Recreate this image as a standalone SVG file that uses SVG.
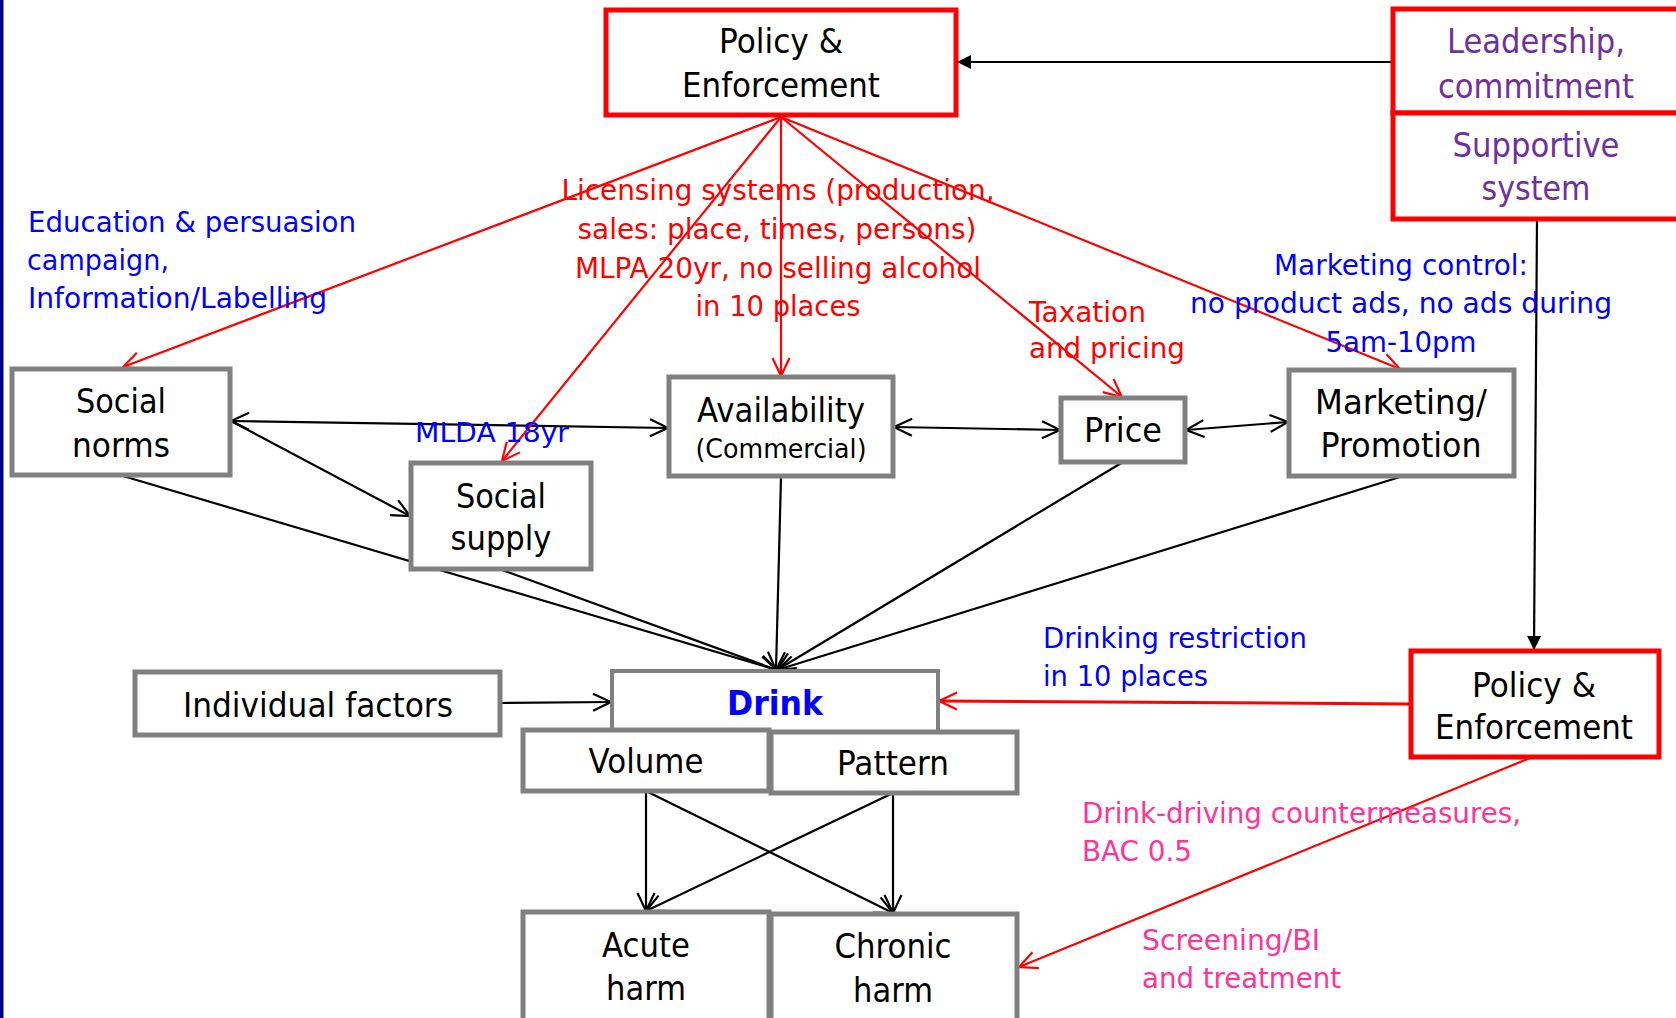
<svg xmlns="http://www.w3.org/2000/svg" width="1676" height="1018" viewBox="0 0 1676 1018">
<style>
text{font-family:"DejaVu Sans","Liberation Sans",sans-serif;}
.m{font-size:33px;fill:#000;text-anchor:middle}
.a{font-size:29px}
.blue{fill:#0000FF}
.red{fill:#FF0000}
.pink{fill:#FF3399}
.purple{fill:#7030A0}
.gb{fill:#fff;stroke:#808080;stroke-width:5}
.rb{fill:#fff;stroke:#FF0000;stroke-width:5}
.k{stroke:#000;stroke-width:2.2;fill:none}
.r{stroke:#FF0000;stroke-width:2.2;fill:none}
</style>
<defs>
<marker id="ak" viewBox="0 0 22 22" refX="20" refY="11" markerWidth="22" markerHeight="22" markerUnits="userSpaceOnUse" orient="auto-start-reverse"><path d="M2,2.5 L20,11 L2,19.5" fill="none" stroke="#000" stroke-width="2.2"/></marker>
<marker id="ar" viewBox="0 0 22 22" refX="20" refY="11" markerWidth="22" markerHeight="22" markerUnits="userSpaceOnUse" orient="auto-start-reverse"><path d="M2,2.5 L20,11 L2,19.5" fill="none" stroke="#FF0000" stroke-width="2.2"/></marker>
<marker id="af" viewBox="0 0 16 16" refX="15" refY="8" markerWidth="16" markerHeight="16" markerUnits="userSpaceOnUse" orient="auto"><path d="M1,1 L15,8 L1,15 Z" fill="#000"/></marker>
</defs>
<rect x="0" y="0" width="1676" height="1018" fill="#fff"/>
<rect x="0" y="0" width="3.5" height="1018" fill="#00008B"/>

<g id="connectors">
<path class="k" d="M231,421 L668,428" marker-start="url(#ak)" marker-end="url(#ak)"/>
<path class="k" d="M231,421 L410,516" marker-end="url(#ak)"/>
<path class="k" d="M123,476 L777,670" marker-end="url(#ak)"/>
<path class="k" d="M502,570 L777,670" marker-end="url(#ak)"/>
<path class="k" d="M781,477 L776,670" marker-end="url(#ak)"/>
<path class="k" d="M1123,462 L777,670" marker-end="url(#ak)"/>
<path class="k" d="M1400,477 L777,670" marker-end="url(#ak)"/>
<path class="k" d="M894,427 L1060,430" marker-start="url(#ak)" marker-end="url(#ak)"/>
<path class="k" d="M1186,430 L1288,422" marker-start="url(#ak)" marker-end="url(#ak)"/>
<path class="k" d="M501,703 L611,702" marker-end="url(#ak)"/>
<path class="k" d="M646,791 L646,911" marker-end="url(#ak)"/>
<path class="k" d="M646,791 L893,913" marker-end="url(#ak)"/>
<path class="k" d="M893,793 L893,913" marker-end="url(#ak)"/>
<path class="k" d="M893,793 L646,911" marker-end="url(#ak)"/>
<path class="k" d="M1393,62 L957,62" marker-end="url(#af)"/>
<path class="k" d="M1537,219 L1534,650" marker-end="url(#af)"/>
<path class="r" d="M781,117 L123,367" marker-end="url(#ar)"/>
<path class="r" d="M781,117 L502,461" marker-end="url(#ar)"/>
<path class="r" d="M781,117 L781,376" marker-end="url(#ar)"/>
<path class="r" d="M781,117 L1122,397" marker-end="url(#ar)"/>
<path class="r" d="M781,117 L1400,369" marker-end="url(#ar)"/>
<path class="r" style="stroke-width:3" d="M1410,704 L939,701" marker-end="url(#ar)"/>
<path class="r" d="M1530,758 L1019,967" marker-end="url(#ar)"/>
</g>

<g id="policy-top">
<rect class="rb" x="606" y="10" width="350" height="105"/>
<text class="m" x="781" y="53" textLength="124" lengthAdjust="spacingAndGlyphs">Policy &amp;</text>
<text class="m" x="781" y="97" textLength="198" lengthAdjust="spacingAndGlyphs">Enforcement</text>
</g>

<g id="leadership">
<rect class="rb" x="1393" y="9" width="290" height="104"/>
<text class="m purple" x="1536" y="53" textLength="178" lengthAdjust="spacingAndGlyphs">Leadership,</text>
<text class="m purple" x="1536" y="98" textLength="196" lengthAdjust="spacingAndGlyphs">commitment</text>
</g>

<g id="supportive">
<rect class="rb" x="1393" y="113" width="290" height="106"/>
<text class="m purple" x="1536" y="157" textLength="167" lengthAdjust="spacingAndGlyphs">Supportive</text>
<text class="m purple" x="1536" y="200" textLength="109" lengthAdjust="spacingAndGlyphs">system</text>
</g>

<g id="social-norms">
<rect class="gb" x="12" y="369" width="218" height="106"/>
<text class="m" x="121" y="413" textLength="90" lengthAdjust="spacingAndGlyphs">Social</text>
<text class="m" x="121" y="457" textLength="98" lengthAdjust="spacingAndGlyphs">norms</text>
</g>

<g id="social-supply">
<rect class="gb" x="411" y="463" width="180" height="106"/>
<text class="m" x="501" y="508" textLength="90" lengthAdjust="spacingAndGlyphs">Social</text>
<text class="m" x="501" y="550" textLength="101" lengthAdjust="spacingAndGlyphs">supply</text>
</g>

<g id="availability">
<rect class="gb" x="669" y="377" width="224" height="99"/>
<text class="m" x="781" y="422" textLength="168" lengthAdjust="spacingAndGlyphs">Availability</text>
<text class="m" style="font-size:26px" x="781" y="458" textLength="171" lengthAdjust="spacingAndGlyphs">(Commercial)</text>
</g>

<g id="price">
<rect class="gb" x="1061" y="398" width="124" height="64"/>
<text class="m" x="1123" y="442" textLength="78" lengthAdjust="spacingAndGlyphs">Price</text>
</g>

<g id="marketing">
<rect class="gb" x="1289" y="370" width="225" height="106"/>
<text class="m" x="1401" y="414" textLength="172" lengthAdjust="spacingAndGlyphs">Marketing/</text>
<text class="m" x="1401" y="457" textLength="161" lengthAdjust="spacingAndGlyphs">Promotion</text>
</g>

<g id="individual">
<rect class="gb" x="135" y="672" width="365" height="63"/>
<text class="m" x="318" y="717" textLength="270" lengthAdjust="spacingAndGlyphs">Individual factors</text>
</g>

<g id="drink">
<rect class="gb" style="stroke-width:4" x="612" y="671" width="326" height="62"/>
<text class="m blue" style="font-weight:bold" x="775" y="715" textLength="96" lengthAdjust="spacingAndGlyphs">Drink</text>
</g>

<g id="volume">
<rect class="gb" x="523" y="730" width="246" height="61"/>
<text class="m" x="646" y="773" textLength="115" lengthAdjust="spacingAndGlyphs">Volume</text>
</g>

<g id="pattern">
<rect class="gb" x="771" y="732" width="246" height="61"/>
<text class="m" x="893" y="775" textLength="112" lengthAdjust="spacingAndGlyphs">Pattern</text>
</g>

<g id="acute">
<rect class="gb" x="523" y="912" width="246" height="110"/>
<text class="m" x="646" y="957" textLength="88" lengthAdjust="spacingAndGlyphs">Acute</text>
<text class="m" x="646" y="1000" textLength="80" lengthAdjust="spacingAndGlyphs">harm</text>
</g>

<g id="chronic">
<rect class="gb" x="771" y="914" width="246" height="110"/>
<text class="m" x="893" y="958" textLength="117" lengthAdjust="spacingAndGlyphs">Chronic</text>
<text class="m" x="893" y="1002" textLength="80" lengthAdjust="spacingAndGlyphs">harm</text>
</g>

<g id="policy-bottom">
<rect class="rb" x="1411" y="651" width="248" height="106"/>
<text class="m" x="1534" y="697" textLength="124" lengthAdjust="spacingAndGlyphs">Policy &amp;</text>
<text class="m" x="1534" y="739" textLength="198" lengthAdjust="spacingAndGlyphs">Enforcement</text>
</g>

<g id="labels">
<text class="a blue" x="28" y="232" textLength="328" lengthAdjust="spacingAndGlyphs">Education &amp; persuasion</text>
<text class="a blue" x="27" y="270" textLength="142" lengthAdjust="spacingAndGlyphs">campaign,</text>
<text class="a blue" x="28" y="308" textLength="299" lengthAdjust="spacingAndGlyphs">Information/Labelling</text>

<text class="a red" text-anchor="middle" x="778" y="200" textLength="433" lengthAdjust="spacingAndGlyphs">Licensing systems (production,</text>
<text class="a red" text-anchor="middle" x="777" y="239" textLength="399" lengthAdjust="spacingAndGlyphs">sales: place, times, persons)</text>
<text class="a red" text-anchor="middle" x="778" y="278" textLength="406" lengthAdjust="spacingAndGlyphs">MLPA 20yr, no selling alcohol</text>
<text class="a red" text-anchor="middle" x="778" y="316" textLength="165" lengthAdjust="spacingAndGlyphs">in 10 places</text>

<text class="a red" x="1029" y="322" textLength="117" lengthAdjust="spacingAndGlyphs">Taxation</text>
<text class="a red" x="1029" y="358" textLength="156" lengthAdjust="spacingAndGlyphs">and pricing</text>

<text class="a blue" text-anchor="middle" x="1401" y="275" textLength="254" lengthAdjust="spacingAndGlyphs">Marketing control:</text>
<text class="a blue" text-anchor="middle" x="1401" y="313" textLength="422" lengthAdjust="spacingAndGlyphs">no product ads, no ads during</text>
<text class="a blue" text-anchor="middle" x="1401" y="352" textLength="151" lengthAdjust="spacingAndGlyphs">5am-10pm</text>

<text class="a blue" style="font-size:27px" x="415" y="442" textLength="154" lengthAdjust="spacingAndGlyphs">MLDA 18yr</text>

<text class="a blue" x="1043" y="648" textLength="264" lengthAdjust="spacingAndGlyphs">Drinking restriction</text>
<text class="a blue" x="1043" y="686" textLength="165" lengthAdjust="spacingAndGlyphs">in 10 places</text>

<text class="a pink" x="1082" y="823" textLength="439" lengthAdjust="spacingAndGlyphs">Drink-driving countermeasures,</text>
<text class="a pink" x="1082" y="861" textLength="110" lengthAdjust="spacingAndGlyphs">BAC 0.5</text>

<text class="a pink" x="1142" y="950" textLength="178" lengthAdjust="spacingAndGlyphs">Screening/BI</text>
<text class="a pink" x="1142" y="988" textLength="199" lengthAdjust="spacingAndGlyphs">and treatment</text>
</g>
</svg>
